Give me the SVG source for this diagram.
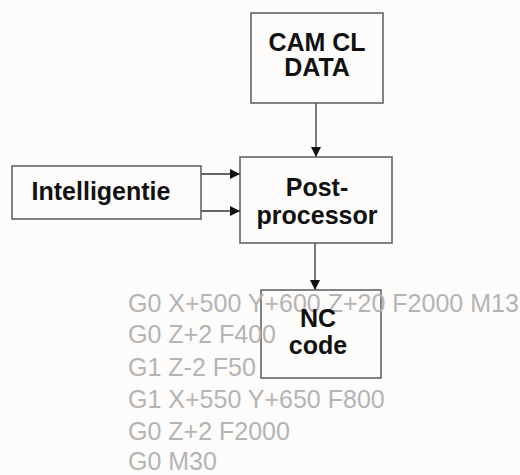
<svg xmlns="http://www.w3.org/2000/svg" width="520" height="475" viewBox="0 0 520 475">
<defs>
<style>
.box{fill:none;stroke:#5a5a5a;stroke-width:1.5}
.lbl{font-family:"Liberation Sans",Arial,sans-serif;font-weight:bold;font-size:25px;fill:#111;text-anchor:middle}
.code{font-family:"Liberation Sans",Arial,sans-serif;font-size:25px;fill:#b4b4b4}
.conn{stroke:#333;stroke-width:1.3;fill:none;marker-end:url(#arr)}
</style>
<marker id="arr" viewBox="0 0 10 10" refX="10" refY="5" markerWidth="13" markerHeight="10" markerUnits="userSpaceOnUse" orient="auto">
<path d="M0,0 L10,5 L0,10 Z" fill="#111"/>
</marker>
</defs>
<rect width="520" height="475" fill="#fdfcfb"/>
<g id="connectors">
<line class="conn" x1="316" y1="103" x2="316" y2="157"/>
<line class="conn" x1="201" y1="174" x2="240" y2="174"/>
<line class="conn" x1="201" y1="211" x2="240" y2="211"/>
<line class="conn" x1="315" y1="243" x2="315" y2="290"/>
</g>
<g id="cam">
<rect class="box" x="251" y="13" width="132" height="90"/>
<text class="lbl" x="317" y="51">CAM CL</text>
<text class="lbl" x="317" y="76">DATA</text>
</g>
<g id="intelligentie">
<rect class="box" x="12" y="166" width="189" height="53"/>
<text class="lbl" x="101" y="200">Intelligentie</text>
</g>
<g id="postprocessor">
<rect class="box" x="240" y="157" width="152" height="86"/>
<text class="lbl" x="317" y="196">Post-</text>
<text class="lbl" x="317" y="224">processor</text>
</g>
<g id="nccode">
<rect class="box" x="261" y="290" width="120" height="88"/>
</g>
<g id="code-lines">
<text class="code" x="128" y="312">G0 X+500 Y+600 Z+20 F2000 M13</text>
<text class="code" x="128" y="343">G0 Z+2 F400</text>
<text class="code" x="128" y="376">G1 Z-2 F50</text>
<text class="code" x="128" y="408">G1 X+550 Y+650 F800</text>
<text class="code" x="128" y="440">G0 Z+2 F2000</text>
<text class="code" x="128" y="470">G0 M30</text>
</g>
<g id="nccode-label">
<text class="lbl" x="318" y="327">NC</text>
<text class="lbl" x="318" y="354">code</text>
</g>
</svg>
